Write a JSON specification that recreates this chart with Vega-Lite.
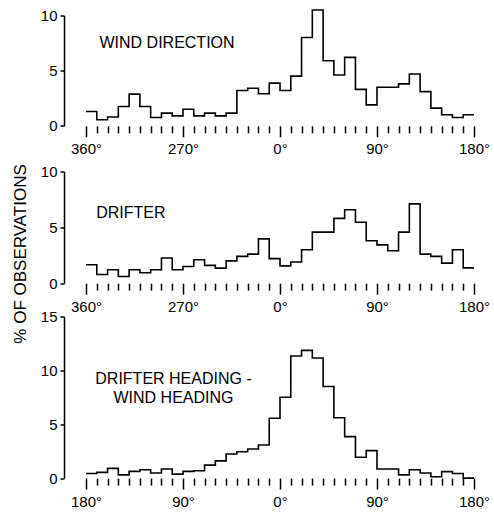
{
  "$schema": "https://vega.github.io/schema/vega-lite/v6.json",
  "background": "white",
  "padding": {"left": 12, "top": 6.5, "right": 0, "bottom": 0},
  "config": {
    "view": {"stroke": null},
    "font": "Liberation Sans",
    "axis": {"grid": false, "title": null, "labelColor": "black", "labelFontSize": 15, "labelFont": "Liberation Sans", "tickColor": "black", "tickWidth": 1.5, "domainColor": "black", "domainWidth": 1.5}
  },
  "title": {"text": "% OF OBSERVATIONS", "orient": "left", "anchor": "middle", "fontSize": 17, "fontWeight": "normal", "font": "Liberation Sans", "color": "black", "offset": 10, "dx": 4},
  "datasets": {
    "wind": [
      {"lo": -180, "hi": -170, "pct": 1.3}, {"lo": -170, "hi": -160, "pct": 0.55}, {"lo": -160, "hi": -150, "pct": 0.8}, {"lo": -150, "hi": -140, "pct": 1.75},
      {"lo": -140, "hi": -130, "pct": 2.87}, {"lo": -130, "hi": -120, "pct": 1.75}, {"lo": -120, "hi": -110, "pct": 0.75}, {"lo": -110, "hi": -100, "pct": 1.15},
      {"lo": -100, "hi": -90, "pct": 0.9}, {"lo": -90, "hi": -80, "pct": 1.5}, {"lo": -80, "hi": -70, "pct": 0.9}, {"lo": -70, "hi": -60, "pct": 1.15},
      {"lo": -60, "hi": -50, "pct": 0.9}, {"lo": -50, "hi": -40, "pct": 1.15}, {"lo": -40, "hi": -30, "pct": 3.2}, {"lo": -30, "hi": -20, "pct": 3.4},
      {"lo": -20, "hi": -10, "pct": 2.9}, {"lo": -10, "hi": 0, "pct": 3.87}, {"lo": 0, "hi": 10, "pct": 3.2}, {"lo": 10, "hi": 20, "pct": 4.5},
      {"lo": 20, "hi": 30, "pct": 8.0}, {"lo": 30, "hi": 40, "pct": 10.5}, {"lo": 40, "hi": 50, "pct": 5.9}, {"lo": 50, "hi": 60, "pct": 4.6},
      {"lo": 60, "hi": 70, "pct": 6.2}, {"lo": 70, "hi": 80, "pct": 3.3}, {"lo": 80, "hi": 90, "pct": 1.9}, {"lo": 90, "hi": 100, "pct": 3.5},
      {"lo": 100, "hi": 110, "pct": 3.5}, {"lo": 110, "hi": 120, "pct": 3.8}, {"lo": 120, "hi": 130, "pct": 4.7}, {"lo": 130, "hi": 140, "pct": 3.1},
      {"lo": 140, "hi": 150, "pct": 1.6}, {"lo": 150, "hi": 160, "pct": 1.0}, {"lo": 160, "hi": 170, "pct": 0.75}, {"lo": 170, "hi": 180, "pct": 1.0}
    ],
    "drifter": [
      {"lo": -180, "hi": -170, "pct": 1.65}, {"lo": -170, "hi": -160, "pct": 0.78}, {"lo": -160, "hi": -150, "pct": 1.2}, {"lo": -150, "hi": -140, "pct": 0.6},
      {"lo": -140, "hi": -130, "pct": 1.2}, {"lo": -130, "hi": -120, "pct": 0.93}, {"lo": -120, "hi": -110, "pct": 1.2}, {"lo": -110, "hi": -100, "pct": 2.25},
      {"lo": -100, "hi": -90, "pct": 1.2}, {"lo": -90, "hi": -80, "pct": 1.5}, {"lo": -80, "hi": -70, "pct": 2.1}, {"lo": -70, "hi": -60, "pct": 1.6},
      {"lo": -60, "hi": -50, "pct": 1.35}, {"lo": -50, "hi": -40, "pct": 2.0}, {"lo": -40, "hi": -30, "pct": 2.4}, {"lo": -30, "hi": -20, "pct": 2.6},
      {"lo": -20, "hi": -10, "pct": 3.97}, {"lo": -10, "hi": 0, "pct": 2.2}, {"lo": 0, "hi": 10, "pct": 1.55}, {"lo": 10, "hi": 20, "pct": 1.9},
      {"lo": 20, "hi": 30, "pct": 3.0}, {"lo": 30, "hi": 40, "pct": 4.57}, {"lo": 40, "hi": 50, "pct": 4.57}, {"lo": 50, "hi": 60, "pct": 5.8},
      {"lo": 60, "hi": 70, "pct": 6.57}, {"lo": 70, "hi": 80, "pct": 5.46}, {"lo": 80, "hi": 90, "pct": 3.8}, {"lo": 90, "hi": 100, "pct": 3.43},
      {"lo": 100, "hi": 110, "pct": 2.9}, {"lo": 110, "hi": 120, "pct": 4.57}, {"lo": 120, "hi": 130, "pct": 7.1}, {"lo": 130, "hi": 140, "pct": 2.6},
      {"lo": 140, "hi": 150, "pct": 2.4}, {"lo": 150, "hi": 160, "pct": 1.8}, {"lo": 160, "hi": 170, "pct": 3.0}, {"lo": 170, "hi": 180, "pct": 1.37}
    ],
    "diff": [
      {"lo": -180, "hi": -170, "pct": 0.43}, {"lo": -170, "hi": -160, "pct": 0.53}, {"lo": -160, "hi": -150, "pct": 0.9}, {"lo": -150, "hi": -140, "pct": 0.3},
      {"lo": -140, "hi": -130, "pct": 0.62}, {"lo": -130, "hi": -120, "pct": 0.78}, {"lo": -120, "hi": -110, "pct": 0.47}, {"lo": -110, "hi": -100, "pct": 0.84},
      {"lo": -100, "hi": -90, "pct": 0.37}, {"lo": -90, "hi": -80, "pct": 0.62}, {"lo": -80, "hi": -70, "pct": 0.68}, {"lo": -70, "hi": -60, "pct": 1.2},
      {"lo": -60, "hi": -50, "pct": 1.6}, {"lo": -50, "hi": -40, "pct": 2.24}, {"lo": -40, "hi": -30, "pct": 2.45}, {"lo": -30, "hi": -20, "pct": 2.7},
      {"lo": -20, "hi": -10, "pct": 3.07}, {"lo": -10, "hi": 0, "pct": 5.56}, {"lo": 0, "hi": 10, "pct": 7.5}, {"lo": 10, "hi": 20, "pct": 11.33},
      {"lo": 20, "hi": 30, "pct": 11.86}, {"lo": 30, "hi": 40, "pct": 11.15}, {"lo": 40, "hi": 50, "pct": 8.5}, {"lo": 50, "hi": 60, "pct": 5.6},
      {"lo": 60, "hi": 70, "pct": 3.85}, {"lo": 70, "hi": 80, "pct": 1.93}, {"lo": 80, "hi": 90, "pct": 2.55}, {"lo": 90, "hi": 100, "pct": 0.84},
      {"lo": 100, "hi": 110, "pct": 0.84}, {"lo": 110, "hi": 120, "pct": 0.3}, {"lo": 120, "hi": 130, "pct": 0.78}, {"lo": 130, "hi": 140, "pct": 0.47},
      {"lo": 140, "hi": 150, "pct": 0.12}, {"lo": 150, "hi": 160, "pct": 0.6}, {"lo": 160, "hi": 170, "pct": 0.43}, {"lo": 170, "hi": 180, "pct": 0.0}
    ]
  },
  "spacing": 0,
  "bounds": "flush",
  "vconcat": [
    {
      "width": 388,
      "height": 110.3,
      "encoding": {
        "x": {"type": "quantitative", "scale": {"domain": [-180, 180], "nice": false, "zero": false},
          "axis": {"values": [-180,-170,-160,-150,-140,-130,-120,-110,-100,-90,-80,-70,-60,-50,-40,-30,-20,-10,0,10,20,30,40,50,60,70,80,90,100,110,120,130,140,150,160,170,180],
            "labelExpr": "datum.value == -180 ? '360°' : datum.value == -90 ? '270°' : datum.value == 0 ? '0°' : datum.value == 90 ? '90°' : datum.value == 180 ? '180°' : ''",
            "domain": false, "tickSize": {"condition": {"test": "datum.value % 90 == 0", "value": 11}, "value": 7}, "labelPadding": 5, "labelFlush": false, "labelOverlap": false}},
        "y": {"type": "quantitative", "scale": {"domain": [0, 10]},
          "axis": {"values": [0, 5, 10], "offset": 22, "tickSize": 4, "labelPadding": 3}}
      },
      "layer": [
        {
          "data": {"name": "wind"},
          "transform": [{"fold": ["lo", "hi"], "as": ["edge", "deg"]}],
          "mark": {"type": "line", "color": "black", "strokeWidth": 1.6, "strokeJoin": "miter"},
          "encoding": {
            "x": {"field": "deg"},
            "y": {"field": "pct"},
            "order": [{"field": "lo", "type": "quantitative"}, {"field": "edge", "sort": "descending"}]
          }
        },
        {
          "data": {"values": [{"deg": -167.5, "pct": 7.05, "label": "WIND DIRECTION"}]},
          "mark": {"type": "text", "align": "left", "baseline": "alphabetic", "fontSize": 16, "font": "Liberation Sans", "color": "black"},
          "encoding": {"x": {"field": "deg"}, "y": {"field": "pct"}, "text": {"field": "label"}}
        }
      ]
    },
    {
      "width": 388,
      "height": 156.7,
      "encoding": {
        "x": {"type": "quantitative", "scale": {"domain": [-180, 180], "nice": false, "zero": false},
          "axis": {"values": [-180,-170,-160,-150,-140,-130,-120,-110,-100,-90,-80,-70,-60,-50,-40,-30,-20,-10,0,10,20,30,40,50,60,70,80,90,100,110,120,130,140,150,160,170,180],
            "labelExpr": "datum.value == -180 ? '360°' : datum.value == -90 ? '270°' : datum.value == 0 ? '0°' : datum.value == 90 ? '90°' : datum.value == 180 ? '180°' : ''",
            "domain": false, "tickSize": {"condition": {"test": "datum.value % 90 == 0", "value": 11}, "value": 7}, "labelPadding": 5, "labelFlush": false, "labelOverlap": false}},
        "y": {"type": "quantitative", "scale": {"domain": [0, 10], "range": [156.7, 45]},
          "axis": {"values": [0, 5, 10], "offset": 22, "tickSize": 4, "labelPadding": 3}}
      },
      "layer": [
        {
          "data": {"name": "drifter"},
          "transform": [{"fold": ["lo", "hi"], "as": ["edge", "deg"]}],
          "mark": {"type": "line", "color": "black", "strokeWidth": 1.6, "strokeJoin": "miter"},
          "encoding": {
            "x": {"field": "deg"},
            "y": {"field": "pct"},
            "order": [{"field": "lo", "type": "quantitative"}, {"field": "edge", "sort": "descending"}]
          }
        },
        {
          "data": {"values": [{"deg": -170.5, "pct": 5.88, "label": "DRIFTER"}]},
          "mark": {"type": "text", "align": "left", "baseline": "alphabetic", "fontSize": 16, "font": "Liberation Sans", "color": "black"},
          "encoding": {"x": {"field": "deg"}, "y": {"field": "pct"}, "text": {"field": "label"}}
        }
      ]
    },
    {
      "width": 388,
      "height": 194.6,
      "encoding": {
        "x": {"type": "quantitative", "scale": {"domain": [-180, 180], "nice": false, "zero": false},
          "axis": {"values": [-180,-170,-160,-150,-140,-130,-120,-110,-100,-90,-80,-70,-60,-50,-40,-30,-20,-10,0,10,20,30,40,50,60,70,80,90,100,110,120,130,140,150,160,170,180],
            "labelExpr": "datum.value % 90 == 0 ? abs(datum.value) + '°' : ''",
            "domain": false, "tickSize": {"condition": {"test": "datum.value % 90 == 0", "value": 11}, "value": 7}, "labelPadding": 5, "labelFlush": false, "labelOverlap": false}},
        "y": {"type": "quantitative", "scale": {"domain": [0, 15], "range": [194.6, 33]},
          "axis": {"values": [0, 5, 10, 15], "offset": 22, "tickSize": 4, "labelPadding": 3}}
      },
      "layer": [
        {
          "data": {"name": "diff"},
          "transform": [{"fold": ["lo", "hi"], "as": ["edge", "deg"]}],
          "mark": {"type": "line", "color": "black", "strokeWidth": 1.6, "strokeJoin": "miter"},
          "encoding": {
            "x": {"field": "deg"},
            "y": {"field": "pct"},
            "order": [{"field": "lo", "type": "quantitative"}, {"field": "edge", "sort": "descending"}]
          }
        },
        {
          "data": {"values": [{"deg": -98.8, "pct": 8.72, "label": "DRIFTER HEADING -|WIND HEADING"}]},
          "mark": {"type": "text", "align": "center", "baseline": "alphabetic", "fontSize": 16, "font": "Liberation Sans", "color": "black", "lineHeight": 18.4, "lineBreak": "|"},
          "encoding": {"x": {"field": "deg"}, "y": {"field": "pct"}, "text": {"field": "label"}}
        }
      ]
    }
  ]
}
